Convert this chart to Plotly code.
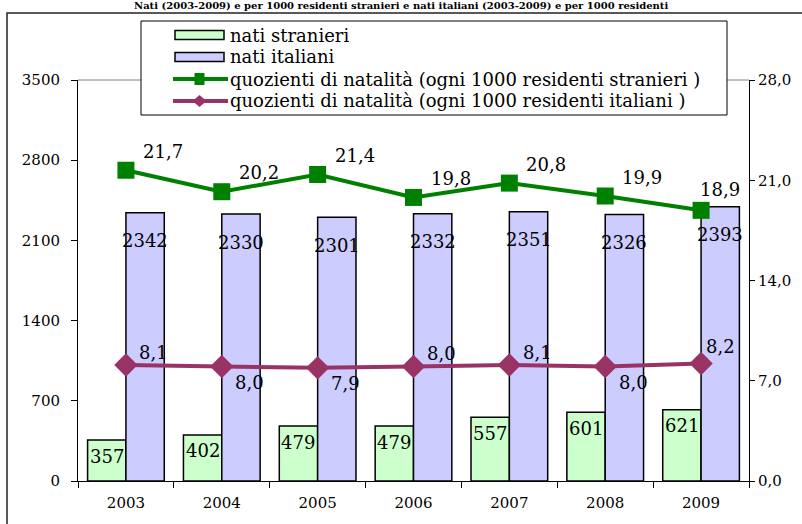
import plotly.graph_objects as go

years = ["2003", "2004", "2005", "2006", "2007", "2008", "2009"]
nati_stranieri = [357, 402, 479, 479, 557, 601, 621]
nati_italiani = [2342, 2330, 2301, 2332, 2351, 2326, 2393]
quoz_stranieri = [21.7, 20.2, 21.4, 19.8, 20.8, 19.9, 18.9]
quoz_italiani = [8.1, 8.0, 7.9, 8.0, 8.1, 8.0, 8.2]
series_names = ["nati stranieri", "nati italiani",
                "quozienti di natalità (ogni 1000 residenti stranieri )",
                "quozienti di natalità (ogni 1000 residenti italiani )"]
# label placement for the Italian rate (above / below the point)
it_label_side = ["above", "below", "below", "above", "above", "below", "above"]

FONT = "DejaVu Serif, Liberation Serif, serif"
GREEN_BAR = "#CCFFCC"
BLUE_BAR = "#CCCCFF"
GREEN_LINE = "#008000"
PURPLE_LINE = "#993366"

W, H = 802, 524
L, R, T, B = 78, 53, 80, 43
PW, PH = W - L - R, H - T - B


def px(xp):
    return (xp - L) / PW


def py(yp):
    return 1 + (T - yp) / PH


def fmt(v):
    return f"{v:.1f}".replace(".", ",")


fig = go.Figure()
fig.add_bar(name=series_names[0], x=years, y=nati_stranieri,
            marker=dict(color=GREEN_BAR, line=dict(color="black", width=1.5)))
fig.add_bar(name=series_names[1], x=years, y=nati_italiani,
            marker=dict(color=BLUE_BAR, line=dict(color="black", width=1.5)))
fig.add_scatter(name=series_names[2], x=years, y=quoz_stranieri, yaxis="y2",
                mode="lines+markers", line=dict(color=GREEN_LINE, width=4),
                marker=dict(symbol="square", size=17, color=GREEN_LINE))
fig.add_scatter(name=series_names[3], x=years, y=quoz_italiani, yaxis="y2",
                mode="lines+markers", line=dict(color=PURPLE_LINE, width=4),
                marker=dict(symbol="diamond", size=18, color=PURPLE_LINE))

ann = []
lab_font = dict(family=FONT, size=18, color="black")
n = len(years)
for i, y in enumerate(years):
    last = i == n - 1  # last labels are pulled left, away from the right axis
    ann.append(dict(x=i - 0.2, y=nati_stranieri[i], xref="x", yref="y",
                    text=str(nati_stranieri[i]), showarrow=False, yshift=-16,
                    font=lab_font))
    ann.append(dict(x=i + 0.2, y=nati_italiani[i], xref="x", yref="y",
                    text=str(nati_italiani[i]), showarrow=False, yshift=-28,
                    font=lab_font))
    ann.append(dict(x=i, y=quoz_stranieri[i], xref="x", yref="y2",
                    text=fmt(quoz_stranieri[i]), showarrow=False,
                    xshift=19 if last else 37, yshift=21 if last else 19,
                    font=lab_font))
    above = it_label_side[i] == "above"
    ann.append(dict(x=i, y=quoz_italiani[i], xref="x", yref="y2",
                    text=fmt(quoz_italiani[i]), showarrow=False,
                    xshift=19 if last else 28,
                    yshift=(17 if last else 13) if above else -16,
                    font=lab_font))

# title strip at the very top of the page
ann.append(dict(xref="paper", yref="paper", x=px(401), y=py(6),
                xanchor="center", yanchor="middle", showarrow=False,
                text="<b>Nati (2003-2009) e per 1000 residenti stranieri e nati italiani (2003-2009) e per 1000 residenti</b>",
                font=dict(family=FONT, size=10, color="black")))

shapes = [
    # outer frame
    dict(type="rect", xref="paper", yref="paper", x0=px(7), x1=px(812),
         y0=py(540), y1=py(13), line=dict(color="#222222", width=1.5),
         layer="below"),
    # top border of plot area
    dict(type="line", xref="paper", yref="paper", x0=0, x1=1, y0=1, y1=1,
         line=dict(color="#808080", width=1)),
    # legend box
    dict(type="rect", xref="paper", yref="paper", x0=px(141), x1=px(727),
         y0=py(115), y1=py(21), fillcolor="white",
         line=dict(color="black", width=1), layer="above"),
]

# legend entries (swatches + real text)
rows_y = [35, 57, 79, 101]
sx0, sx1, tx = 175, 224, 229
leg_font = dict(family=FONT, size=18, color="black")
for k, fill in enumerate([GREEN_BAR, BLUE_BAR]):
    yc = rows_y[k]
    shapes.append(dict(type="rect", xref="paper", yref="paper",
                       x0=px(sx0), x1=px(sx1), y0=py(yc + 4.5), y1=py(yc - 4.5),
                       fillcolor=fill, line=dict(color="black", width=1.5),
                       layer="above"))
for k, col in [(2, GREEN_LINE), (3, PURPLE_LINE)]:
    yc = rows_y[k]
    shapes.append(dict(type="line", xref="paper", yref="paper",
                       x0=px(sx0 - 2), x1=px(sx1 + 4), y0=py(yc), y1=py(yc),
                       line=dict(color=col, width=4), layer="above"))
    xc = (sx0 + sx1) / 2
    if k == 2:
        shapes.append(dict(type="rect", xref="paper", yref="paper",
                           x0=px(xc - 5), x1=px(xc + 5), y0=py(yc + 6),
                           y1=py(yc - 6), fillcolor=col, line=dict(width=0),
                           layer="above"))
    else:
        x_l, x_r = px(xc - 7), px(xc + 7)
        y_t, y_b, y_m = py(yc - 6), py(yc + 6), py(yc)
        xm = px(xc)
        shapes.append(dict(type="path", xref="paper", yref="paper",
                           path=f"M {x_l} {y_m} L {xm} {y_t} L {x_r} {y_m} L {xm} {y_b} Z",
                           fillcolor=col, line=dict(width=0), layer="above"))
for k, name in enumerate(series_names):
    ann.append(dict(xref="paper", yref="paper", x=px(tx), y=py(rows_y[k]),
                    xanchor="left", yanchor="middle", showarrow=False,
                    borderpad=0, text=name, font=leg_font))

tick_font = dict(family=FONT, size=15)
fig.update_layout(
    width=W, height=H,
    margin=dict(l=L, r=R, t=T, b=B, autoexpand=False),
    paper_bgcolor="white", plot_bgcolor="white",
    barmode="group", bargap=0.2, bargroupgap=0,
    font=dict(family=FONT, size=15, color="black"),
    showlegend=False,
    xaxis=dict(type="category", showline=True, linecolor="black", linewidth=1,
               ticks="outside", ticklen=6, tickcolor="black",
               tickson="boundaries", showgrid=False, ticklabelstandoff=8,
               tickfont=tick_font),
    yaxis=dict(range=[0, 3500], dtick=700, tickformat="d", showline=True,
               linecolor="black", linewidth=1, ticks="outside", ticklen=6,
               tickcolor="black", showgrid=False, zeroline=False,
               ticklabelstandoff=8, tickfont=tick_font),
    yaxis2=dict(range=[0, 28], dtick=7, tickformat=".1f", overlaying="y",
                side="right", showline=True, linecolor="black", linewidth=1,
                ticks="outside", ticklen=5, tickcolor="black", showgrid=False,
                zeroline=False, tickfont=tick_font),
    separators=",.",
    annotations=ann,
    shapes=shapes,
)

fig.write_html("out.html", config={"displayModeBar": False},
               post_script="document.body.style.margin='0';")
